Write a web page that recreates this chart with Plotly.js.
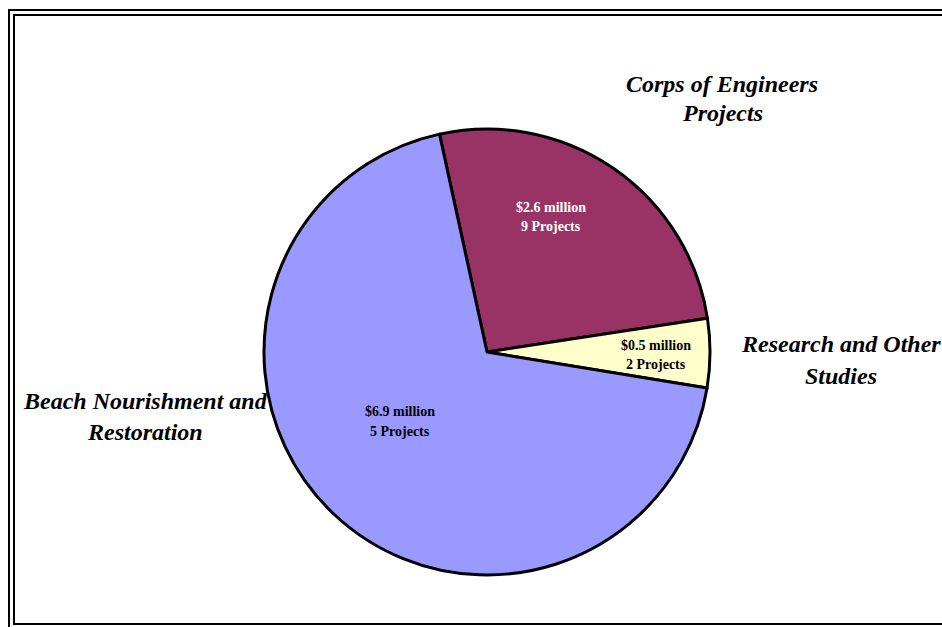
<!DOCTYPE html>
<html>
<head>
<meta charset="utf-8">
<script src="https://cdn.plot.ly/plotly-3.0.1.min.js"></script>
<style>
  html, body { margin: 0; padding: 0; background: #ffffff; }
  #chart { width: 942px; height: 627px; }
</style>
</head>
<body>
<div id="chart"></div>
<script>
// ---- data ----
const categories = ["Corps of Engineers Projects", "Research and Other Studies", "Beach Nourishment and Restoration"];
const categoryLines = [["Corps of Engineers", "Projects"], ["Research and Other", "Studies"], ["Beach Nourishment and", "Restoration"]];
const valuesMillion = [2.6, 0.5, 6.9];
const projectCounts = [9, 2, 5];
const sliceColors = ["#993366", "#FFFFCC", "#9999FF"];
const insideTextColors = ["#ffffff", "#000000", "#000000"];

// ---- layout helpers (pixel -> paper) ----
const W = 942, H = 627;
const px = x => x / W;
const py = y => 1 - y / H;

// pie geometry
const cx = 487, cy = 352, r = 223;

const serif = "'Liberation Serif', 'Times New Roman', Times, serif";

// outside label positions (line centres)
const outsidePos = [
  {x: 722, y: [84, 113]},
  {x: 841, y: [344, 376]},
  {x: 145, y: [401, 432]}
];
// inside label positions
const insidePos = [
  {x: 551, y: [207, 226]},
  {x: 656, y: [345, 364]},
  {x: 400, y: [411, 431]}
];

const annotations = [];
categoryLines.forEach((lines, i) => {
  lines.forEach((t, j) => {
    annotations.push({
      xref: 'paper', yref: 'paper',
      x: px(outsidePos[i].x), y: py(outsidePos[i].y[j]),
      xanchor: 'center', yanchor: 'middle',
      showarrow: false, text: t,
      font: {family: serif, size: 24, color: '#000000', weight: 'bold', style: 'italic'}
    });
  });
});
valuesMillion.forEach((v, i) => {
  const lines = ['$' + v.toFixed(1) + ' million', projectCounts[i] + ' Projects'];
  lines.forEach((t, j) => {
    annotations.push({
      xref: 'paper', yref: 'paper',
      x: px(insidePos[i].x), y: py(insidePos[i].y[j]),
      xanchor: 'center', yanchor: 'middle',
      showarrow: false, text: t,
      font: {family: serif, size: 14, color: insideTextColors[i], weight: 'bold'}
    });
  });
});

const trace = {
  type: 'pie',
  labels: categories,
  values: valuesMillion,
  customdata: projectCounts,
  sort: false,
  direction: 'clockwise',
  rotation: -12.3,
  textinfo: 'none',
  hovertemplate: '%{label}<br>$%{value} million<br>%{customdata} Projects<extra></extra>',
  marker: {colors: sliceColors, line: {color: '#000000', width: 3}},
  domain: {x: [px(cx - r), px(cx + r)], y: [py(cy + r), py(cy - r)]},
  showlegend: false
};

const shapes = [
  // outer frame
  {type: 'rect', xref: 'paper', yref: 'paper', x0: px(9), y0: py(10), x1: px(990), y1: py(680),
   line: {color: '#000000', width: 2}, fillcolor: 'rgba(0,0,0,0)'},
  // inner frame
  {type: 'rect', xref: 'paper', yref: 'paper', x0: px(14), y0: py(15), x1: px(985), y1: py(624),
   line: {color: '#000000', width: 2}, fillcolor: 'rgba(0,0,0,0)'}
];

const layout = {
  width: W, height: H,
  margin: {l: 0, r: 0, t: 0, b: 0},
  paper_bgcolor: '#ffffff',
  plot_bgcolor: '#ffffff',
  showlegend: false,
  annotations: annotations,
  shapes: shapes
};

Plotly.newPlot('chart', [trace], layout, {displayModeBar: false, staticPlot: true});
</script>
</body>
</html>
